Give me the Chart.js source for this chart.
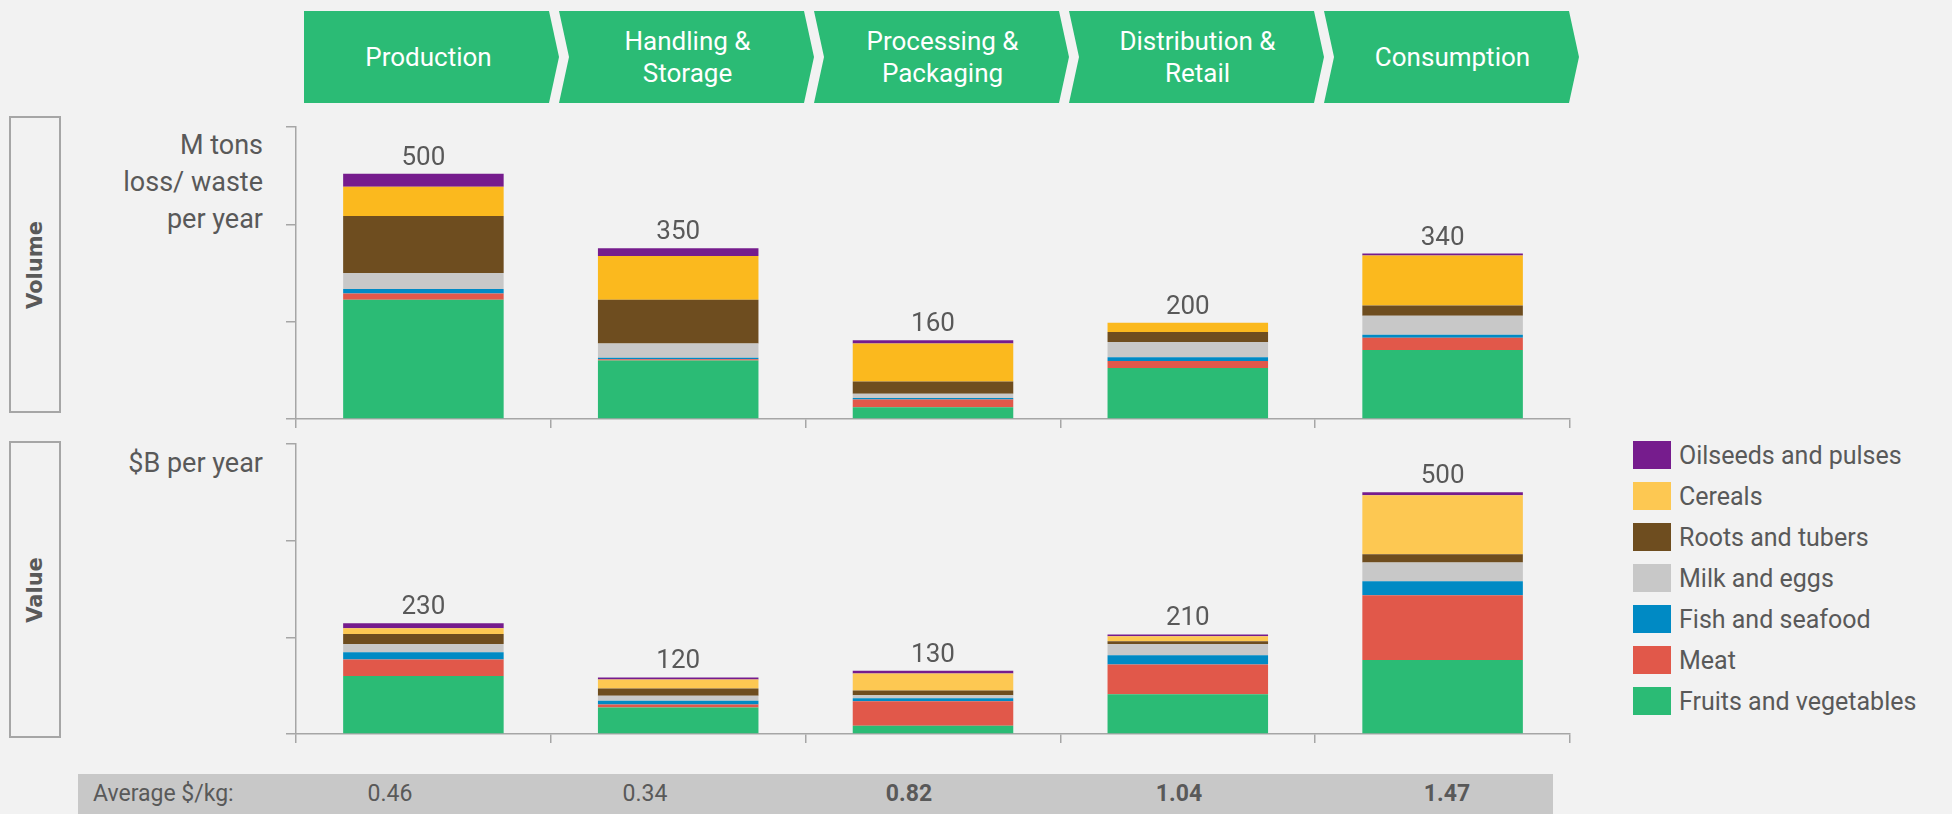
<!DOCTYPE html>
<html>
<head>
<meta charset="utf-8">
<script src="https://cdn.jsdelivr.net/npm/chart.js@4.4.1/dist/chart.umd.min.js"></script>
<style>
    body {
        margin: 0;
        width: 1952px;
        height: 814px;
        background: #F2F2F2;
        position: relative;
        overflow: hidden;
        font-family: Roboto, sans-serif;
        color: #595959;
    }
    .stage {
        position: absolute;
        top: 11px;
        height: 92px;
        width: 255px;
        background: #2BBB75;
        color: #fff;
        font-size: 26px;
        line-height: 32px;
        display: flex;
        align-items: center;
        justify-content: center;
        text-align: center;
    }
    .sideBox {
        position: absolute;
        left: 9px;
        width: 52px;
        box-sizing: border-box;
        border: 2px solid #A6A6A6;
        display: flex;
        align-items: center;
        justify-content: center;
    }
    .sideBox span {
        transform: rotate(-90deg);
        font-family: "DejaVu Sans", sans-serif;
        font-weight: bold;
        font-size: 21px;
        white-space: nowrap;
    }
    .axisTitle {
        position: absolute;
        left: 0;
        width: 263px;
        text-align: right;
        font-size: 27px;
        line-height: 37px;
    }
    .chartBox { position: absolute; left: 0; }
    #legend { position: absolute; left: 1633px; top: 441px; }
    .legendItem { display: flex; align-items: center; height: 28px; margin-bottom: 13px; font-size: 25px; white-space: nowrap; }
    .legendItem i { display: inline-block; width: 38px; height: 28px; margin-right: 8px; }
    #avgRow {
        position: absolute;
        left: 78px;
        top: 774px;
        width: 1475px;
        height: 40px;
        background: #C8C8C8;
        font-size: 23px;
        line-height: 40px;
    }
    #avgRow span { position: absolute; top: 0; }
</style>
</head>
<body>

<div id="stages"></div>

<div class="sideBox" style="top:116px;height:297px"><span>Volume</span></div>
<div class="sideBox" style="top:441px;height:297px"><span>Value</span></div>

<div class="axisTitle" style="top:127px">M tons<br>loss/ waste<br>per year</div>
<div class="axisTitle" style="top:445px">$B per year</div>

<div class="chartBox" style="top:100px"><canvas id="volumeChart" width="1600" height="331"></canvas></div>
<div class="chartBox" style="top:420px"><canvas id="valueChart" width="1600" height="326"></canvas></div>

<div id="legend"></div>
<div id="avgRow"></div>

<script>
// supply chain stages (x categories)
const stages = [['Production'], ['Handling &', 'Storage'], ['Processing &', 'Packaging'], ['Distribution &', 'Retail'], ['Consumption']];

// food groups, bottom of the stack first
const groups = ['Fruits and vegetables', 'Meat', 'Fish and seafood', 'Milk and eggs', 'Roots and tubers', 'Cereals', 'Oilseeds and pulses'];

// M tons loss / waste per year
const volFruitsVeg = [245, 120, 24, 105, 142];
const volMeat      = [13, 3, 16, 14, 25];
const volFish      = [9, 3, 3, 8, 6];
const volMilk      = [33, 29, 9, 31, 39];
const volRoots     = [117, 90, 25, 21, 21];
const volCereals   = [60, 90, 78, 19, 103];
const volOilseeds  = [27, 16, 7, 0, 4];
const volumeTotals = [500, 350, 160, 200, 340];

// $B per year
const valFruitsVeg = [120, 55, 17, 82, 153];
const valMeat      = [34, 6, 51, 62, 134];
const valFish      = [15, 8, 6, 19, 29];
const valMilk      = [17, 10, 6, 23, 39];
const valRoots     = [21, 15, 10, 6, 17];
const valCereals   = [12, 19, 35, 10, 122];
const valOilseeds  = [10, 4, 6, 4, 6];
const valueTotals  = [230, 120, 130, 210, 500];

// average $/kg row
const avgPerKg = ['0.46', '0.34', '0.82', '1.04', '1.47'];
const avgBold  = [false, false, true, true, true];

const colors = ['#2BBB75', '#E1584A', '#008AC4', '#C8C8C8', '#6E4D1F', '#FBB91E', '#761C8D'];
const valueColors = ['#2BBB75', '#E1584A', '#008AC4', '#C8C8C8', '#6E4D1F', '#FDC852', '#761C8D'];

const axisColor = '#A6A6A6';

// chevrons on top
const stagesDiv = document.getElementById('stages');
stages.forEach((lines, i) => {
    const left = 304 + 255 * i;
    const d = document.createElement('div');
    d.className = 'stage';
    d.style.left = left + 'px';
    d.style.clipPath = i === 0
        ? 'polygon(0 0, 245px 0, 255px 50%, 245px 100%, 0 100%)'
        : 'polygon(0 0, 245px 0, 255px 50%, 245px 100%, 0 100%, 10px 50%)';
    d.innerHTML = '<div style="margin-left:' + (i === 0 ? -6 : 2) + 'px">' + lines.join('<br>') + '</div>';
    stagesDiv.appendChild(d);
});

function makeTotalsPlugin(totals) {
    return {
        id: 'totals',
        afterDatasetsDraw(chart) {
            const ctx = chart.ctx;
            const top = chart.getDatasetMeta(chart.data.datasets.length - 1);
            ctx.save();
            ctx.font = '26px Roboto';
            ctx.fillStyle = '#595959';
            ctx.textAlign = 'center';
            ctx.textBaseline = 'alphabetic';
            top.data.forEach((bar, i) => {
                ctx.fillText(totals[i], bar.x, bar.y - 9);
            });
            ctx.restore();
        }
    };
}

function makeChart(id, series, palette, totals, padTop) {
    const ctx = document.getElementById(id).getContext('2d');
    return new Chart(ctx, {
        type: 'bar',
        data: {
            labels: stages,
            datasets: series.map((values, k) => ({
                label: groups[k],
                data: values,
                backgroundColor: palette[k],
                borderWidth: 0,
                categoryPercentage: 1,
                barPercentage: 0.63
            }))
        },
        options: {
            responsive: false,
            animation: false,
            events: [],
            layout: { padding: { left: 286, right: 30, top: padTop, bottom: 3 } },
            plugins: { legend: { display: false }, tooltip: { enabled: false } },
            scales: {
                x: {
                    stacked: true,
                    ticks: { display: false },
                    grid: { drawOnChartArea: false, tickLength: 9, color: axisColor, lineWidth: 1.5, offset: true },
                    border: { color: axisColor, width: 1.5 }
                },
                y: {
                    stacked: true,
                    min: 0,
                    max: 600,
                    ticks: { display: false, stepSize: 200 },
                    grid: { drawOnChartArea: false, tickLength: 10, color: axisColor, lineWidth: 1.5 },
                    border: { color: axisColor, width: 1.5 }
                }
            }
        },
        plugins: [makeTotalsPlugin(totals)]
    });
}

makeChart('volumeChart',
    [volFruitsVeg, volMeat, volFish, volMilk, volRoots, volCereals, volOilseeds],
    colors, volumeTotals, 27);

makeChart('valueChart',
    [valFruitsVeg, valMeat, valFish, valMilk, valRoots, valCereals, valOilseeds],
    valueColors, valueTotals, 24);

// legend, top item first
const legend = document.getElementById('legend');
groups.slice().reverse().forEach((name, k) => {
    const idx = groups.length - 1 - k;
    const row = document.createElement('div');
    row.className = 'legendItem';
    row.innerHTML = '<i style="background:' + valueColors[idx] + '"></i>' + name;
    legend.appendChild(row);
});

// average $/kg row
const avgX = [312, 567, 831, 1101, 1369]; // centres relative to the row
const avgRow = document.getElementById('avgRow');
avgRow.innerHTML = '<span style="left:15px">Average $/kg:</span>';
avgPerKg.forEach((v, i) => {
    const s = document.createElement('span');
    s.textContent = v;
    s.style.left = avgX[i] + 'px';
    s.style.transform = 'translateX(-50%)';
    if (avgBold[i]) s.style.fontWeight = 'bold';
    avgRow.appendChild(s);
});
</script>
</body>
</html>
